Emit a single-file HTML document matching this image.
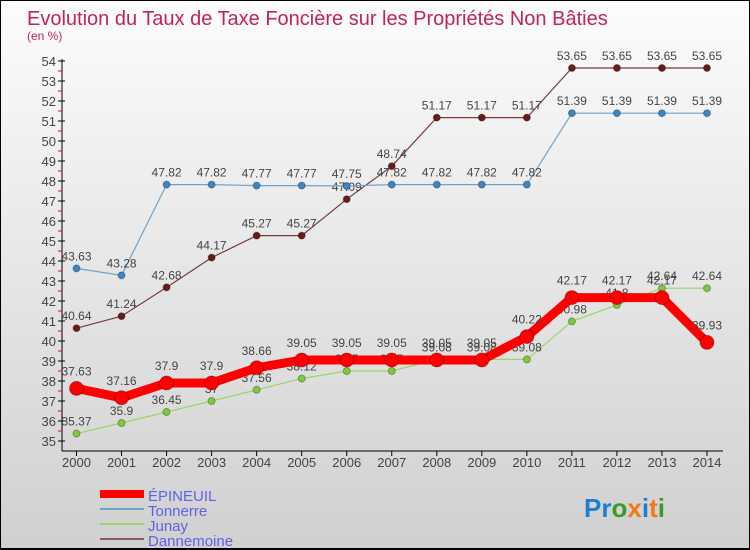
<!DOCTYPE html>
<html><head><meta charset="utf-8"><style>
body{margin:0}
#c{width:750px;height:550px;position:relative;box-sizing:border-box;border:1px solid #000;border-bottom-width:2px;background:linear-gradient(#fcfcfc,#d0d0d0);font-family:"Liberation Sans",sans-serif;overflow:hidden}
</style></head><body>
<div id="c">
<svg id="s" width="750" height="550" style="position:absolute;left:0;top:0">
<text x="26" y="24" font-size="20" fill="#c0245a">Evolution du Taux de Taxe Foncière sur les Propriétés Non Bâties</text>
<text x="26" y="39" font-size="12" fill="#c0245a">(en %)</text>
<g id="ax"></g><g id="ser"></g>
<g>
<rect x="99" y="489" width="44" height="8" fill="#f00"/>
<line x1="99" y1="508" x2="143" y2="508" stroke="#6fa3c8" stroke-width="2"/>
<line x1="99" y1="523" x2="143" y2="523" stroke="#9ad46a" stroke-width="2"/>
<line x1="99" y1="538" x2="143" y2="538" stroke="#8a5a5a" stroke-width="2"/>
<text x="147" y="500" font-size="15" fill="#6060e8">ÉPINEUIL</text>
<text x="147" y="515" font-size="15" fill="#6060e8">Tonnerre</text>
<text x="147" y="530" font-size="15" fill="#6060e8">Junay</text>
<text x="147" y="545" font-size="15" fill="#6060e8">Dannemoine</text>
</g>
<text x="583" y="516" font-size="26" font-weight="bold"><tspan fill="#1e7fd0">Pr</tspan><tspan fill="#3a9a2a">o</tspan><tspan fill="#f07a10">x</tspan><tspan fill="#1e7fd0">i</tspan><tspan fill="#f07a10">t</tspan><tspan fill="#3a9a2a">i</tspan></text>
</svg>
</div>
<script>
const years=[2000,2001,2002,2003,2004,2005,2006,2007,2008,2009,2010,2011,2012,2013,2014];
const yTicks=[35,36,37,38,39,40,41,42,43,44,45,46,47,48,49,50,51,52,53,54];
const epineuil=[37.63,37.16,37.9,37.9,38.66,39.05,39.05,39.05,39.05,39.05,40.22,42.17,42.17,42.17,39.93];
const tonnerre=[43.63,43.28,47.82,47.82,47.77,47.77,47.75,47.82,47.82,47.82,47.82,51.39,51.39,51.39,51.39];
const junay=[35.37,35.9,36.45,37,37.56,38.12,38.5,38.5,39.08,39.08,39.08,40.98,41.8,42.64,42.64];
const dannemoine=[40.64,41.24,42.68,44.17,45.27,45.27,47.09,48.74,51.17,51.17,51.17,53.65,53.65,53.65,53.65];
const NS="http://www.w3.org/2000/svg";
const X=i=>75.5+i*(706-75.5)/(years.length-1);
const Y=v=>440-(v-35)*(380/19);
function mk(t,a,p){const e=document.createElementNS(NS,t);for(const k in a)e.setAttribute(k,a[k]);p.appendChild(e);return e;}
const ax=document.getElementById('ax'),ser=document.getElementById('ser');
let l=mk('line',{x1:61,y1:58,x2:61,y2:450,stroke:'#000'},ax);


l=mk('line',{x1:61,y1:450,x2:722,y2:450,stroke:'#000'},ax);


yTicks.forEach(v=>{const y=Y(v);
mk('line',{x1:57,y1:y,x2:64,y2:y,stroke:'#000'},ax);
if(v<54)mk('line',{x1:57,y1:y-10,x2:61,y2:y-10,stroke:'#f00'},ax);
const t=mk('text',{x:55,y:y+5,'font-size':13,'text-anchor':'end',fill:'#444'},ax);t.textContent=v;

});
years.forEach((yr,i)=>{const x=X(i);mk('line',{x1:x,y1:450,x2:x,y2:455,stroke:'#000'},ax);
const t=mk('text',{x:x,y:466,'font-size':13,'text-anchor':'middle',fill:'#444'},ax);t.textContent=yr;

});
function series(data,name,col,dot,w,r,lab){
const g=mk('g',{},ser);


mk('polyline',{points:data.map((v,i)=>X(i)+','+Y(v)).join(' '),fill:'none',stroke:col,'stroke-width':w,'stroke-linejoin':'round'},g);
data.forEach((v,i)=>{const c=mk('circle',{cx:X(i),cy:Y(v),r:r,fill:dot,stroke:'rgba(0,0,0,0.3)'},g);


const t=mk('text',{x:X(i),y:Y(v)-lab,'font-size':12,'text-anchor':'middle',fill:'#444'},g);t.textContent=v;

});}
series(dannemoine,'dannemoine','#7a3a3a','#6a1a1a',1.2,3.5,8);
series(tonnerre,'tonnerre','#6fa3c8','#3a86c6',1.2,3.5,8);
series(junay,'junay','#9ad46a','#7ccc3a',1.2,3.5,8);
series(epineuil,'epineuil','#f00','#f00',9,7,13);
</script>
</body></html>
